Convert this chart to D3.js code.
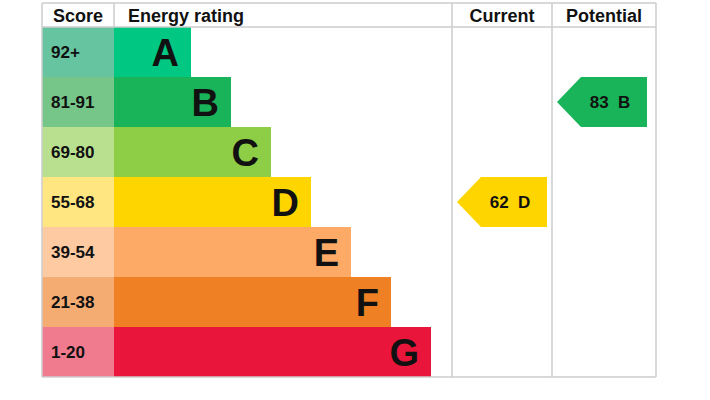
<!DOCTYPE html>
<html><head><meta charset="utf-8">
<script src="https://cdn.jsdelivr.net/npm/d3@7"></script>
<style>body{margin:0;background:#fff}text{font-family:Arial,"Liberation Sans",sans-serif;font-weight:bold}</style>
</head><body><svg></svg>
<script>
const bands = ["A", "B", "C", "D", "E", "F", "G"];
const scores = ["92+", "81-91", "69-80", "55-68", "39-54", "21-38", "1-20"];
const bandMin = [92, 81, 69, 55, 39, 21, 1];
const bandColors = ["#00c781", "#19b459", "#8dce46", "#ffd500", "#fcaa65", "#ef8023", "#e9153b"];
const scoreColors = ["#66c4a0", "#76c68a", "#b9e08f", "#ffe680", "#fdcaa1", "#f5ac73", "#f07a8e"];
const ratings = [{col: "Current", value: 62}, {col: "Potential", value: 83}];

const width = 710, height = 400;
const svg = d3.select("svg").attr("width", width).attr("height", height);

const y = d3.scaleBand().domain(bands).range([27, 377]);
const barW = d3.scaleLinear().domain([0, 6]).range([77, 317]);
const colX = {Current: [452, 552], Potential: [552, 656]};
const grid = "#cccccc";

function bandOf(v) { return bands[bandMin.findIndex(m => v >= m)]; }

// score cells
svg.selectAll(".score").data(bands).enter().append("rect")
    .attr("x", 42).attr("y", d => y(d)).attr("width", 72).attr("height", y.bandwidth())
    .attr("fill", (d, i) => scoreColors[i]);
svg.selectAll(".scoreText").data(scores).enter().append("text")
    .attr("x", 51).attr("y", (d, i) => y(bands[i]) + y.bandwidth() / 2 + 6)
    .style("font-size", "17px").attr("fill", "#111").text(d => d);

// rating bars
svg.selectAll(".bar").data(bands).enter().append("rect")
    .attr("x", 114).attr("y", d => y(d)).attr("height", y.bandwidth())
    .attr("width", (d, i) => barW(i)).attr("fill", (d, i) => bandColors[i]);
svg.selectAll(".barText").data(bands).enter().append("text")
    .attr("x", (d, i) => 114 + barW(i) - 12).attr("y", d => y(d) + y.bandwidth() / 2 + 14)
    .attr("text-anchor", "end").style("font-size", "38px").attr("fill", "#111").text(d => d);

// grid
const lines = [[42, 3, 656, 3], [42, 27, 656, 27], [42, 377, 656, 377],
    [42, 3, 42, 377], [114, 3, 114, 27], [452, 3, 452, 377], [552, 3, 552, 377], [656, 3, 656, 377]];
svg.selectAll(".grid").data(lines).enter().append("line")
    .attr("x1", d => d[0]).attr("y1", d => d[1]).attr("x2", d => d[2]).attr("y2", d => d[3])
    .attr("stroke", grid).attr("stroke-width", 1.5);

// headers
const headers = [["Score", 78], ["Energy rating", 128, "start"], ["Current", 502], ["Potential", 604]];
svg.selectAll(".hdr").data(headers).enter().append("text")
    .attr("x", d => d[1]).attr("y", 22).attr("text-anchor", d => d[2] || "middle")
    .style("font-size", "18px").attr("fill", "#111").text(d => d[0]);

// arrows
ratings.forEach(r => {
    const b = bandOf(r.value), i = bands.indexOf(b);
    const x0 = colX[r.col][0] + 5, x1 = colX[r.col][1] - (r.col === "Potential" ? 9 : 5);
    const top = y(b), bot = y(b) + y.bandwidth(), mid = (top + bot) / 2;
    svg.append("path")
        .attr("d", `M${x0},${mid}L${x0 + 24},${top}L${x1},${top}L${x1},${bot}L${x0 + 24},${bot}Z`)
        .attr("fill", bandColors[i]);
    svg.append("text").attr("x", (x0 + x1) / 2 + 8).attr("y", mid + 6)
        .attr("text-anchor", "middle").style("font-size", "17px").attr("fill", "#111")
        .text(r.value + "  " + b).attr("xml:space", "preserve").style("white-space", "pre");
});
</script></body></html>
